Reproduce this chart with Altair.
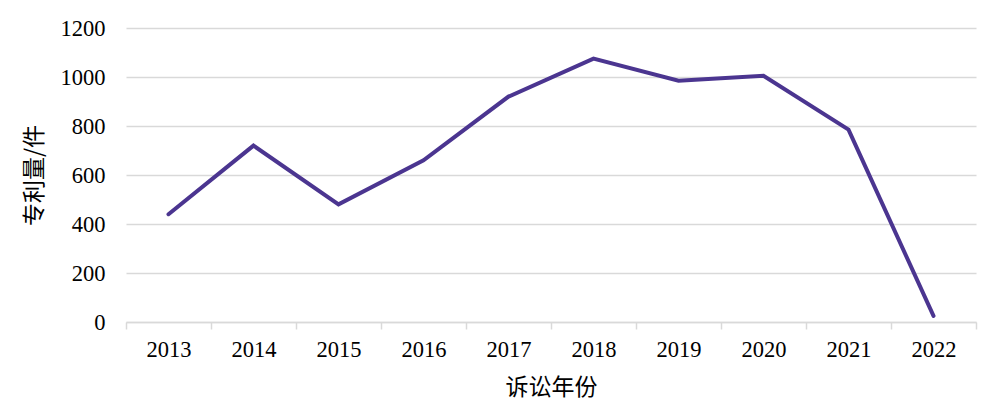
import altair as alt
import pandas as pd

years = ["2013", "2014", "2015", "2016", "2017", "2018", "2019", "2020", "2021", "2022"]
counts = [440, 720, 480, 660, 920, 1075, 985, 1005, 785, 25]

df = pd.DataFrame({"year": years, "count": counts})

grey = "#d9d9d9"

chart = alt.Chart(df).mark_line(color="#4b3590", strokeWidth=4, strokeCap="round").encode(
    x=alt.X(
        "year:O",
        title="诉讼年份",
        sort=years,
        bandPosition=0.5,
        scale=alt.Scale(type="band", paddingInner=0, paddingOuter=0),
        axis=alt.Axis(
            labelAngle=0,
            tickBand="extent",
            domainColor=grey,
            domainWidth=1.5,
            tickColor=grey,
            tickWidth=1.5,
            tickSize=7,
            labelPadding=9,
            labelFont="Liberation Serif",
            labelFontSize=22.5,
            labelColor="#000000",
            titleFont="Noto Sans CJK SC",
            titleFontSize=23,
            titleFontWeight="normal",
            titleColor="#000000",
            titlePadding=16,
            grid=False,
        ),
    ),
    y=alt.Y(
        "count:Q",
        title="专利量/件",
        scale=alt.Scale(domain=[0, 1200]),
        axis=alt.Axis(
            values=[0, 200, 400, 600, 800, 1000, 1200],
            format="d",
            domain=False,
            ticks=False,
            tickSize=0,
            gridColor=grey,
            gridWidth=1.5,
            labelPadding=21,
            labelFont="Liberation Serif",
            labelFontSize=22.5,
            labelColor="#000000",
            titleFont="Noto Sans CJK SC",
            titleFontSize=23,
            titleFontWeight="normal",
            titleColor="#000000",
            titlePadding=14,
        ),
    ),
).properties(
    width=850,
    height=294,
    autosize=alt.AutoSizeParams(type="none"),
    padding={"left": 118, "top": 20, "right": 6, "bottom": 88},
).configure_view(stroke=None)

chart.save("out.html", embed_options={"renderer": "svg", "actions": False})
